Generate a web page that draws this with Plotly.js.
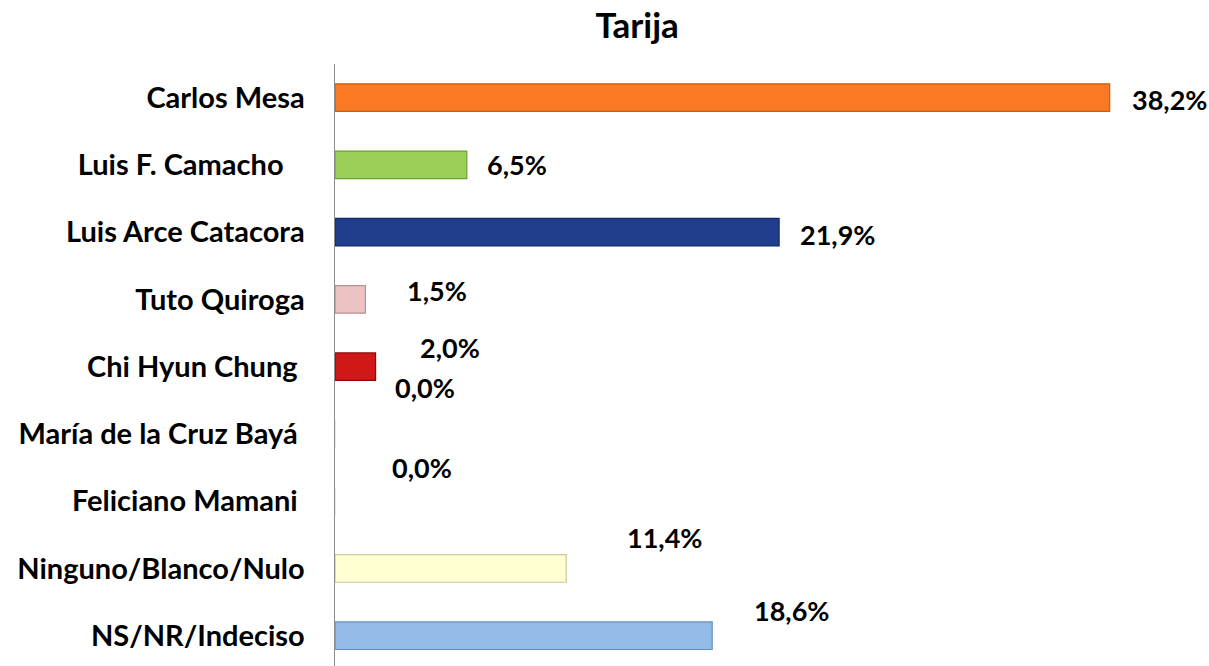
<!DOCTYPE html>
<html>
<head>
<meta charset="utf-8">
<script src="https://cdn.plot.ly/plotly-3.0.1.min.js"></script>
<style>
  html, body { margin: 0; padding: 0; background: #ffffff; }
  #chart { width: 1209px; height: 666px; }
</style>
</head>
<body>
<div id="chart"></div>
<script>
// ---- data ----
const categories = [
  "Carlos Mesa",
  "Luis F. Camacho",
  "Luis Arce Catacora",
  "Tuto Quiroga",
  "Chi Hyun Chung",
  "María de la Cruz Bayá",
  "Feliciano Mamani",
  "Ninguno/Blanco/Nulo",
  "NS/NR/Indeciso"
];
const tickLabels = [
  "Carlos Mesa",
  "Luis F. Camacho\u00a0\u00a0\u00a0",
  "Luis Arce Catacora",
  "Tuto Quiroga",
  "Chi Hyun Chung\u00a0",
  "María de la Cruz Bayá\u00a0",
  "Feliciano Mamani\u00a0",
  "Ninguno/Blanco/Nulo",
  "NS/NR/Indeciso"
];
const values = [38.2, 6.5, 21.9, 1.5, 2.0, 0.0, 0.0, 11.4, 18.6];
const valueLabels = ["38,2%", "6,5%", "21,9%", "1,5%", "2,0%", "0,0%", "0,0%", "11,4%", "18,6%"];

// ---- styling ----
const barColors = ["#F97A22", "#9BD058", "#203E8C", "#EBC3C3", "#D01818", "#FFFFFF", "#FFFFFF", "#FFFFD2", "#93BBE8"];
const lineColors = ["#C85E10", "#6E9E38", "#142A66", "#B89090", "#8E0A0A", "#DDDDDD", "#DDDDDD", "#C8C8A0", "#6A8EBA"];
// label placement offsets (pixels) relative to the end of each bar
const labelDx = [20, 18, 19, 40, 42, 58, 55, 59, 40];
const labelDy = [-2, 0, -2, 9, 19, 46, 34, 31, 25];

const FONT = "Lato, 'Open Sans', 'Liberation Sans', sans-serif";

const trace = {
  type: "bar",
  orientation: "h",
  y: categories,
  x: values,
  width: 0.41,
  marker: { color: barColors, line: { color: lineColors, width: 1.2 } },
  hoverinfo: "skip",
  showlegend: false
};

const annotations = categories.map((c, i) => ({
  x: values[i],
  y: c,
  xref: "x",
  yref: "y",
  text: valueLabels[i],
  showarrow: false,
  xanchor: "left",
  yanchor: "middle",
  xshift: labelDx[i],
  yshift: labelDy[i],
  font: { family: FONT, size: 27, color: "#000000", weight: 700 }
}));

const layout = {
  width: 1209,
  height: 666,
  paper_bgcolor: "#ffffff",
  plot_bgcolor: "#ffffff",
  margin: { l: 335, r: 2, t: 64, b: 0 },
  title: {
    text: "<b>Tarija</b>",
    x: 0.527, xref: "container", xanchor: "center",
    y: 0.962, yref: "container", yanchor: "middle",
    font: { family: FONT, size: 35, color: "#000000" }
  },
  xaxis: {
    range: [0, 43],
    showgrid: false, zeroline: false, showline: false,
    showticklabels: false, ticks: "", fixedrange: true
  },
  yaxis: {
    type: "category",
    range: [8.45, -0.5],
    tickmode: "array",
    tickvals: categories,
    ticktext: tickLabels,
    showgrid: false, zeroline: false,
    showline: true, linecolor: "#8C8C8C", linewidth: 1.5,
    ticks: "", ticklabelstandoff: 23,
    tickfont: { family: FONT, size: 29, color: "#000000", weight: 700 },
    fixedrange: true
  },
  annotations: annotations,
  bargap: 0.59
};

Plotly.newPlot("chart", [trace], layout, { displayModeBar: false, staticPlot: true });
</script>
</body>
</html>
